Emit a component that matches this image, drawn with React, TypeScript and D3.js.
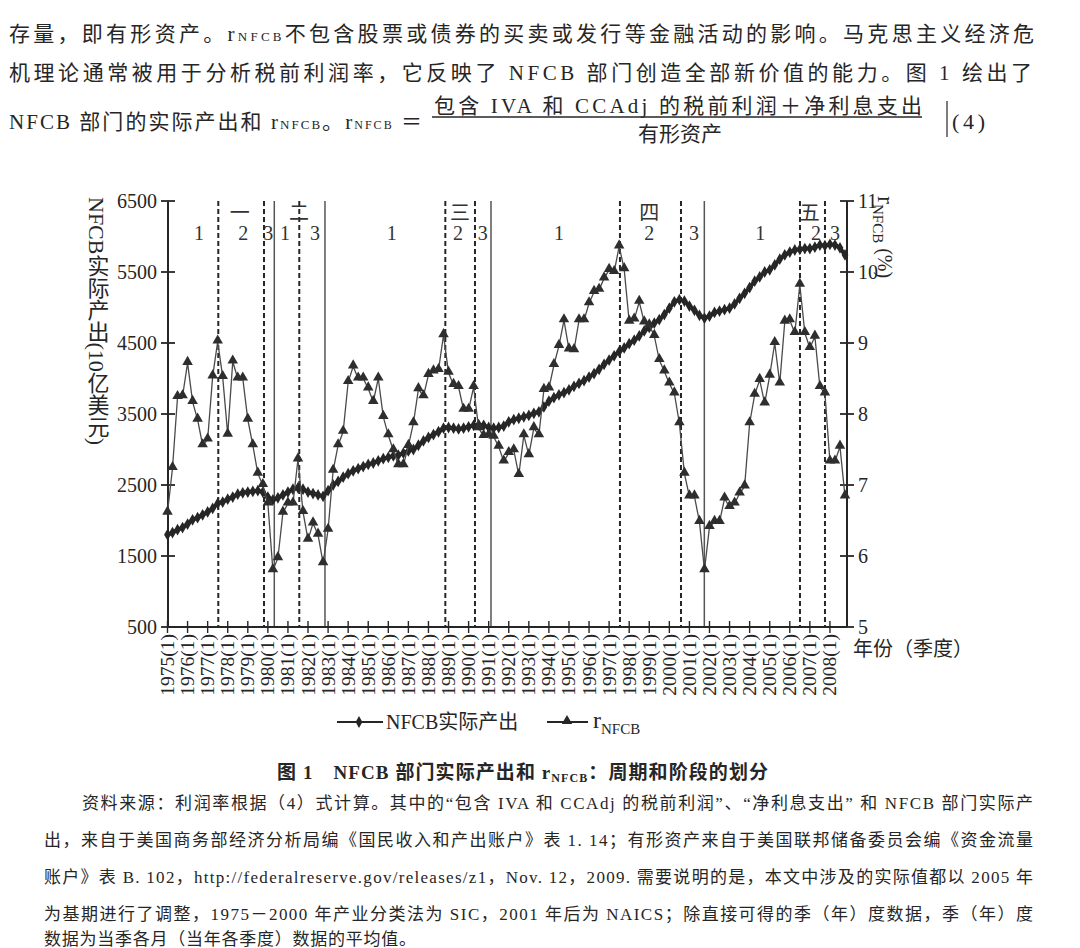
import React from 'react';
import * as d3 from 'd3';

// ---------- data ----------
const YEAR_LABELS = ['1975','1976','1977','1978','1979','1980','1981','1982','1983','1984','1985','1986','1987','1988','1989','1990','1991','1992','1993','1994','1995','1996','1997','1998','1999','2000','2001','2002','2003','2004','2005','2006','2007','2008'];

// NFCB real output, quarterly 1975Q1-2008Q4 (10 billion USD)
const OUTPUT = [
  1800,1830,1870,1900,1950,2010,2040,2080,2120,2170,
  2240,2260,2300,2330,2370,2390,2400,2410,2420,2400,
  2330,2290,2320,2360,2400,2440,2460,2440,2400,2380,
  2360,2340,2420,2500,2550,2610,2660,2700,2730,2760,
  2790,2810,2840,2870,2890,2910,2920,2950,2980,3000,
  3060,3120,3170,3210,3250,3300,3310,3300,3290,3300,
  3320,3340,3350,3340,3310,3300,3310,3330,3390,3420,
  3440,3460,3480,3510,3530,3600,3680,3730,3770,3800,
  3840,3890,3930,3970,4020,4070,4130,4200,4260,4320,
  4380,4430,4490,4540,4600,4670,4720,4780,4830,4900,
  4990,5080,5110,5090,5020,4960,4890,4850,4880,4930,
  4950,4970,4990,5050,5130,5200,5280,5370,5430,5500,
  5530,5600,5680,5740,5780,5810,5820,5830,5830,5850,
  5880,5870,5890,5880,5840,5740,
];

// r_NFCB, quarterly 1975Q1-2008Q4 (%)
const RATE = [
  6.61,7.24,8.24,8.25,8.72,8.17,7.92,7.56,7.64,8.53,
  9.02,8.52,7.71,8.74,8.50,8.50,7.92,7.56,7.16,7.00,
  6.74,5.80,5.97,6.61,6.74,6.74,7.36,6.62,6.23,6.46,
  6.30,5.90,6.37,7.20,7.56,7.75,8.45,8.67,8.50,8.50,
  8.36,8.17,8.50,7.96,7.70,7.49,7.28,7.28,7.55,7.87,
  8.35,8.25,8.55,8.60,8.62,9.11,8.58,8.41,8.38,8.06,
  8.06,8.38,7.80,7.69,7.70,7.68,7.54,7.33,7.45,7.49,
  7.14,7.70,7.42,7.80,7.70,8.34,8.36,8.69,8.96,9.32,
  8.91,8.90,9.32,9.32,9.56,9.72,9.75,9.91,10.03,10.00,
  10.36,10.04,9.30,9.33,9.58,9.29,9.25,9.10,8.76,8.60,
  8.43,8.29,7.87,7.16,6.84,6.84,6.48,5.80,6.41,6.48,
  6.48,6.81,6.69,6.74,6.88,6.98,7.87,8.27,8.48,8.15,
  8.54,9.00,8.43,9.30,9.32,9.14,9.82,9.14,8.93,9.09,
  8.38,8.29,7.33,7.33,7.54,6.84,
];

// cycle / phase boundaries, in quarters since 1975Q1
const DASHED_BOUNDS = [10.12, 19.23, 26.26, 55.36, 61.27, 90.16, 102.32, 126.03, 131.01];
const SOLID_BOUNDS = [21.28, 31.38, 64.46, 106.97];
const PHASE_LABELS = ['1','2','3','1','3','1','2','3','1','2','3','1','2','3'];
const PHASE_POS = [6.3, 15.1, 20.1, 23.4, 29.4, 44.7, 57.9, 62.8, 78.0, 96.0, 104.9, 118.1, 129.2, 133.0];
const CYCLE_LABELS = ['一','二','三','四','五'];
const CYCLE_POS = [14.4, 26.2, 58.3, 96.0, 128.0];

const LEFT_TICKS = [500, 1500, 2500, 3500, 4500, 5500, 6500];
const RIGHT_TICKS = [5, 6, 7, 8, 9, 10, 11];

const INK = '#262626';
const SERIF = '"Liberation Serif", "DejaVu Serif", "Noto Sans CJK SC", serif';
const CJK = '"Liberation Serif", "Noto Sans CJK SC", serif';

export default function App() {
  const x = d3.scaleLinear().domain([0, 135.4]).range([167.5, 847]);
  const yL = d3.scaleLinear().domain([500, 6500]).range([627, 201]);
  const yR = d3.scaleLinear().domain([5, 11]).range([627, 201]);

  const outLine = d3.line<number>().x((_, i) => x(i)).y((d) => yL(d))(OUTPUT) || '';
  const rateLine = d3.line<number>().x((_, i) => x(i)).y((d) => yR(d))(RATE) || '';
  const diamond = d3.symbol().type(d3.symbolDiamond).size(40)() || '';
  const triangle = d3.symbol().type(d3.symbolTriangle).size(48)() || '';
  const diamondLg = d3.symbol().type(d3.symbolDiamond).size(40)() || '';

  const top = yL(6500);
  const bottom = yL(500);

  return (
    <svg width={1080} height={948} style={{ position: 'absolute', left: 0, top: 0, background: '#fff' }}
      fontFamily={CJK} fill={INK}>
      <rect x={0} y={0} width={1080} height={948} fill="#fff" />

      {/* body text above */}
      <text x={9} y={41} fontSize={21} textLength={1025}>
        存量，即有形资产。r<tspan fontSize={13}>NFCB</tspan>不包含股票或债券的买卖或发行等金融活动的影响。马克思主义经济危
      </text>
      <text x={9} y={80} fontSize={21} textLength={1023}>
        机理论通常被用于分析税前利润率，它反映了 NFCB 部门创造全部新价值的能力。图 1 绘出了
      </text>
      <text x={9} y={129} fontSize={21} textLength={413}>
        NFCB 部门的实际产出和 r<tspan fontSize={13}>NFCB</tspan>。r<tspan fontSize={12}>NFCB</tspan> ＝
      </text>
      <text x={434} y={113} fontSize={21} textLength={488}>包含 IVA 和 CCAdj 的税前利润＋净利息支出</text>
      <line x1={432} x2={922} y1={117} y2={117} stroke={INK} strokeWidth={1.3} />
      <text x={680} y={141} fontSize={21} textAnchor="middle">有形资产</text>
      <line x1={947} x2={947} y1={101} y2={137} stroke={INK} strokeWidth={1.2} />
      <text x={952} y={129} fontSize={22} fontFamily={SERIF} textLength={33}>(4)</text>

      {/* boundary lines */}
      {DASHED_BOUNDS.map((b, i) => (
        <line key={'d' + i} x1={x(b)} x2={x(b)} y1={top} y2={bottom} stroke={INK} strokeWidth={2} strokeDasharray="5 3" />
      ))}
      {SOLID_BOUNDS.map((b, i) => (
        <line key={'s' + i} x1={x(b)} x2={x(b)} y1={top} y2={bottom} stroke="#555" strokeWidth={1.5} />
      ))}

      {/* phase & cycle labels */}
      {PHASE_LABELS.map((t, i) => (
        <text key={'p' + i} x={x(PHASE_POS[i])} y={240} fontSize={20} textAnchor="middle" fontFamily={SERIF} fill="#333">{t}</text>
      ))}
      {CYCLE_LABELS.map((t, i) => (
        <text key={'c' + i} x={x(CYCLE_POS[i])} y={220} fontSize={20} textAnchor="middle" fill="#333">{t}</text>
      ))}

      {/* axes */}
      <line x1={x(0) + 0.5} x2={x(0) + 0.5} y1={top} y2={bottom} stroke={INK} strokeWidth={2} />
      <line x1={847} x2={847} y1={top} y2={bottom} stroke={INK} strokeWidth={2} />
      <line x1={x(0)} x2={847} y1={bottom} y2={bottom} stroke={INK} strokeWidth={1.8} />
      {LEFT_TICKS.map((t) => (
        <g key={'lt' + t}>
          <line x1={161} x2={175} y1={yL(t)} y2={yL(t)} stroke={INK} strokeWidth={1.8} />
          <text x={157} y={yL(t) + 7} fontSize={20} textAnchor="end" fontFamily={SERIF}>{t}</text>
        </g>
      ))}
      {RIGHT_TICKS.map((t) => (
        <g key={'rt' + t}>
          <line x1={840} x2={854} y1={yR(t)} y2={yR(t)} stroke={INK} strokeWidth={1.8} />
          <text x={858} y={yR(t) + 7} fontSize={20} fontFamily={SERIF}>{t}</text>
        </g>
      ))}
      {YEAR_LABELS.map((yr, i) => (
        <g key={'x' + yr}>
          <line x1={x(i * 4)} x2={x(i * 4)} y1={bottom - 6} y2={bottom + 6} stroke={INK} strokeWidth={1.4} />
          <text transform={`translate(${x(i * 4) + 6.5},${bottom + 7}) rotate(-90)`} fontSize={19.5}
            textAnchor="end" fontFamily={SERIF}>{yr + '(1)'}</text>
        </g>
      ))}
      <text x={853} y={656} fontSize={20}>年份（季度）</text>

      {/* axis titles */}
      <text x={96} y={197} fontSize={22} style={{ writingMode: 'vertical-rl' } as any}>NFCB实际产出(10亿美元)</text>
      <text transform="translate(878,196) rotate(90)" fontFamily={SERIF}>
        <tspan fontSize={24}>r</tspan><tspan fontSize={15} dy={5}>NFCB</tspan><tspan fontSize={20} dy={-5}> (%)</tspan>
      </text>

      {/* series */}
      <path d={outLine} fill="none" stroke={INK} strokeWidth={4} strokeLinejoin="round" />
      {OUTPUT.map((v, i) => (
        <path key={'o' + i} d={diamond} transform={`translate(${x(i)},${yL(v)})`} fill={INK} />
      ))}
      <path d={rateLine} fill="none" stroke="#4a4a4a" strokeWidth={1.3} />
      {RATE.map((v, i) => (
        <path key={'r' + i} d={triangle} transform={`translate(${x(i)},${yR(v) - 1})`} fill="#2e2e2e" />
      ))}

      {/* legend */}
      <line x1={337} x2={383} y1={722} y2={722} stroke={INK} strokeWidth={2} />
      <path d={diamondLg} transform="translate(359,722)" fill={INK} />
      <text x={386} y={729} fontSize={20}>NFCB实际产出</text>
      <line x1={547} x2={588} y1={722} y2={722} stroke={INK} strokeWidth={2} />
      <path d={triangle} transform="translate(567,721)" fill={INK} />
      <text x={593} y={728} fontFamily={SERIF}>
        <tspan fontSize={24}>r</tspan><tspan fontSize={15} dy={6}>NFCB</tspan>
      </text>

      {/* caption */}
      <text x={277} y={779} fontSize={19} fontWeight="bold" textLength={491}>
        图 1　NFCB 部门实际产出和 r<tspan fontSize={12} dy={3}>NFCB</tspan><tspan dy={-3}>：周期和阶段的划分</tspan>
      </text>

      {/* source notes */}
      <text x={82} y={809} fontSize={17} textLength={951}>资料来源：利润率根据（4）式计算。其中的“包含 IVA 和 CCAdj 的税前利润”、“净利息支出” 和 NFCB 部门实际产</text>
      <text x={44} y={846} fontSize={17} textLength={989}>出，来自于美国商务部经济分析局编《国民收入和产出账户》表 1. 14；有形资产来自于美国联邦储备委员会编《资金流量</text>
      <text x={44} y={883} fontSize={17} textLength={989}>账户》表 B. 102，http://federalreserve.gov/releases/z1，Nov. 12，2009. 需要说明的是，本文中涉及的实际值都以 2005 年</text>
      <text x={44} y={920} fontSize={17} textLength={989}>为基期进行了调整，1975－2000 年产业分类法为 SIC，2001 年后为 NAICS；除直接可得的季（年）度数据，季（年）度</text>
      <text x={44} y={945} fontSize={17} textLength={372}>数据为当季各月（当年各季度）数据的平均值。</text>
    </svg>
  );
}
